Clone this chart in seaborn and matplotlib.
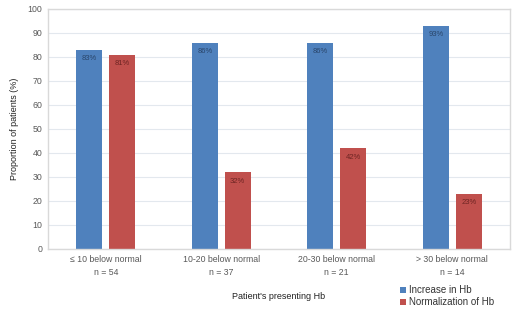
import matplotlib
matplotlib.use("Agg")
import matplotlib.pyplot as plt
import seaborn as sns
import pandas as pd

categories = ["≤ 10 below normal\nn = 54", "10-20 below normal\nn = 37",
              "20-30 below normal\nn = 21", "> 30 below normal\nn = 14"]
series = ["Increase in Hb", "Normalization of Hb"]
increase = [83, 86, 86, 93]
normalization = [81, 32, 42, 23]
colors = ["#4F81BD", "#C0504D"]
label_colors = ["#2A466B", "#6E2523"]

df = pd.DataFrame({
    "cat": categories * 2,
    "series": [series[0]] * 4 + [series[1]] * 4,
    "val": increase + normalization,
})

sns.set_style("white")
plt.rcParams['font.family'] = ['Liberation Sans', 'DejaVu Sans']
fig = plt.figure(figsize=(5.2, 3.11), dpi=100)
ax = fig.add_axes([48/520, 1-249/311, 462/520, 240/311])

sns.barplot(data=df, x="cat", y="val", hue="series", palette=colors,
            width=0.57, gap=0.21, ax=ax, saturation=1, legend=True,
            linewidth=0, edgecolor="none")

ax.set_ylim(0, 100)
ax.set_yticks(range(0, 101, 10))
ax.grid(axis="y", color="#E3E8EE", linewidth=0.8)
ax.set_axisbelow(True)
for s in ax.spines.values():
    s.set_color("#D9D9D9")
    s.set_linewidth(1.0)
ax.tick_params(axis="both", length=0, labelsize=6.3, colors="#595959", pad=4)
for t in ax.get_xticklabels():
    t.set_linespacing(1.6)
ax.set_ylabel("Proportion of patients (%)", fontsize=6.5, color="#222222", labelpad=6)
ax.set_xlabel("Patient's presenting Hb", fontsize=6.5, color="#222222", labelpad=11)

for i, cont in enumerate(ax.containers):
    ax.bar_label(cont, labels=[f"{v:.0f}%" for v in cont.datavalues],
                 padding=-9, fontsize=5.5, color=label_colors[i])

leg = ax.legend(loc="upper left", bbox_to_anchor=(348/462, -0.135), frameon=False,
                fontsize=7, handlelength=0.6, handleheight=0.6, handletextpad=0.3,
                labelspacing=0.2, borderaxespad=0)
for t in leg.get_texts():
    t.set_color("#333333")

fig.savefig("out.png", dpi=100)
